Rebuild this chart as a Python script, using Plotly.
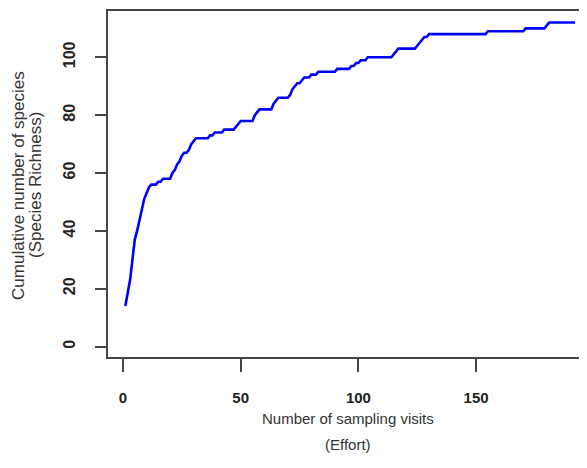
import plotly.graph_objects as go

visits = list(range(1, 193))
richness = [
    14, 19, 23, 30, 37, 40, 44, 48, 51, 53,
    55, 56, 56, 56, 57, 57, 58, 58, 58, 58,
    60, 61, 63, 64, 66, 67, 67, 68, 70, 71,
    72, 72, 72, 72, 72, 72, 73, 73, 74, 74,
    74, 74, 75, 75, 75, 75, 75, 76, 77, 78,
    78, 78, 78, 78, 78, 80, 81, 82, 82, 82,
    82, 82, 82, 84, 85, 86, 86, 86, 86, 86,
    87, 89, 90, 91, 91, 92, 93, 93, 93, 94,
    94, 94, 95, 95, 95, 95, 95, 95, 95, 95,
    96, 96, 96, 96, 96, 96, 97, 97, 98, 98,
    99, 99, 99, 100, 100, 100, 100, 100, 100, 100,
    100, 100, 100, 100, 101, 102, 103, 103, 103, 103,
    103, 103, 103, 103, 104, 105, 106, 107, 107, 108,
    108, 108, 108, 108, 108, 108, 108, 108, 108, 108,
    108, 108, 108, 108, 108, 108, 108, 108, 108, 108,
    108, 108, 108, 108, 109, 109, 109, 109, 109, 109,
    109, 109, 109, 109, 109, 109, 109, 109, 109, 109,
    110, 110, 110, 110, 110, 110, 110, 110, 110, 111,
    112, 112, 112, 112, 112, 112, 112, 112, 112, 112,
    112, 112,
]
x_ticks = [0, 50, 100, 150]
y_ticks = [0, 20, 40, 60, 80, 100]
x_title = ["Number of sampling visits", "(Effort)"]
y_title = ["Cumulative number of species", "(Species Richness)"]

fig = go.Figure(go.Scatter(
    x=visits, y=richness, mode="lines",
    line=dict(color="#0000FF", width=2.6),
    hoverinfo="skip",
))

axis_col = "#444444"
font_fam = "Liberation Sans, Arial, sans-serif"
title_font = dict(family=font_fam, size=15, color="#333333")
ytitle_font = dict(family=font_fam, size=17, color="#333333")

annotations = [
    dict(text=x_title[0], x=0.493, y=-0.179, xref="paper", yref="paper",
         xanchor="center", yanchor="middle", showarrow=False, font=title_font),
    dict(text=x_title[1], x=0.493, y=-0.254, xref="paper", yref="paper",
         xanchor="center", yanchor="middle", showarrow=False, font=title_font),
    dict(text=y_title[0], x=-0.185, y=0.497, xref="paper", yref="paper",
         xanchor="center", yanchor="middle", showarrow=False, textangle=-90,
         font=ytitle_font),
    dict(text=y_title[1], x=-0.150, y=0.497, xref="paper", yref="paper",
         xanchor="center", yanchor="middle", showarrow=False, textangle=-90,
         font=ytitle_font),
]

fig.update_layout(
    width=587, height=468,
    margin=dict(l=100, r=0, t=3, b=119, pad=0, autoexpand=False),
    paper_bgcolor="white", plot_bgcolor="white",
    showlegend=False,
    annotations=annotations,
    xaxis=dict(
        range=[-6.37, 200.5], tickvals=x_ticks, ticktext=[str(v) for v in x_ticks],
        showgrid=False, zeroline=False, automargin=False,
        showline=True, mirror=True, linecolor=axis_col, linewidth=1.5,
        ticks="outside", ticklen=13, tickwidth=1.5, tickcolor=axis_col,
        ticklabelstandoff=13,
        tickfont=dict(family=font_fam, size=15, color="#222222", weight="bold"),
    ),
    yaxis=dict(
        range=[-3.6, 116.0], tickvals=y_ticks, ticktext=[str(v) for v in y_ticks],
        showgrid=False, zeroline=False, automargin=False,
        showline=True, mirror=False, linecolor=axis_col, linewidth=1.5,
        ticks="outside", ticklen=11, tickwidth=1.5, tickcolor=axis_col,
        tickangle=-90, ticklabelstandoff=14,
        tickfont=dict(family=font_fam, size=16, color="#222222", weight="bold"),
    ),
)

fig.write_html("out.html")
